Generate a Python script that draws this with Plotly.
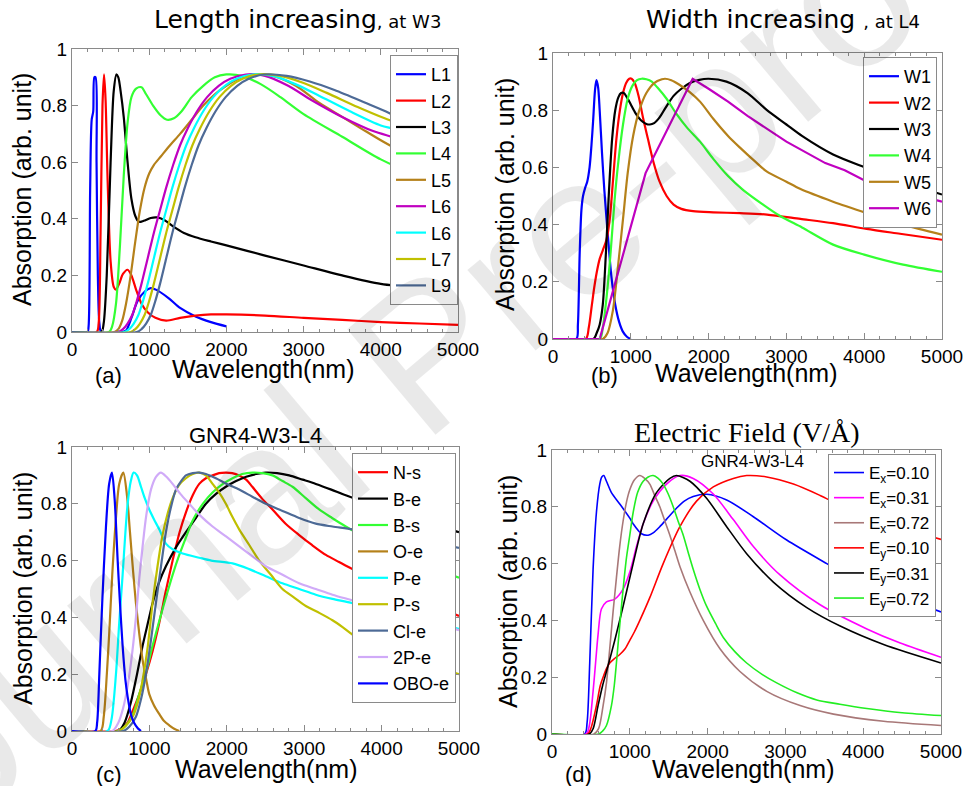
import plotly.graph_objects as go

# ---------------- Panel (a): Length increasing, at W3 ----------------
a_L1_x = [0, 200, 215, 235, 255, 275, 290, 305, 318, 335, 355, 380, 650, 700, 770, 850, 950, 1020, 1100, 1250, 1400, 1600, 1800, 2000]
a_L1_y = [0, 0, 0.02, 0.5, 0.75, 0.78, 0.9, 0.9, 0.6, 0.2, 0.03, 0, 0, 0.005, 0.05, 0.11, 0.145, 0.155, 0.148, 0.12, 0.085, 0.055, 0.035, 0.02]
a_L2_x = [0, 320, 345, 370, 395, 415, 435, 460, 500, 540, 570, 610, 660, 720, 770, 830, 900, 980, 1080, 1220, 1400, 1600, 1800, 2000, 2500, 3000, 3500, 4000, 4500, 5000]
a_L2_y = [0, 0, 0.03, 0.35, 0.8, 0.91, 0.82, 0.55, 0.25, 0.16, 0.15, 0.17, 0.205, 0.22, 0.2, 0.15, 0.1, 0.07, 0.05, 0.04, 0.05, 0.058, 0.062, 0.062, 0.058, 0.05, 0.043, 0.035, 0.03, 0.025]
a_L3_x = [0, 380, 410, 450, 500, 540, 575, 600, 630, 670, 720, 770, 820, 865, 900, 950, 1020, 1100, 1200, 1300, 1450, 1600, 1800, 2000, 2500, 3000, 3500, 4000, 4500, 5000]
a_L3_y = [0, 0, 0.03, 0.2, 0.6, 0.85, 0.91, 0.9, 0.85, 0.76, 0.6, 0.47, 0.41, 0.39, 0.39, 0.395, 0.403, 0.405, 0.395, 0.375, 0.35, 0.335, 0.32, 0.306, 0.27, 0.235, 0.2, 0.17, 0.155, 0.145]
a_L4_x = [0, 480, 520, 570, 620, 670, 720, 770, 830, 900, 960, 1050, 1150, 1230, 1320, 1420, 1550, 1700, 1850, 2000, 2200, 2450, 2700, 3000, 3500, 4000, 4500, 5000]
a_L4_y = [0, 0, 0.02, 0.1, 0.3, 0.55, 0.74, 0.83, 0.86, 0.865, 0.84, 0.8, 0.765, 0.75, 0.755, 0.78, 0.83, 0.87, 0.9, 0.91, 0.905, 0.875, 0.83, 0.77, 0.69, 0.61, 0.55, 0.5]
a_L5_x = [0, 550, 600, 650, 700, 760, 820, 880, 940, 1000, 1060, 1150, 1270, 1400, 1550, 1700, 1850, 2000, 2200, 2400, 2600, 2900, 3200, 3500, 3800, 4150, 4500, 5000]
a_L5_y = [0, 0, 0.01, 0.04, 0.1, 0.2, 0.32, 0.43, 0.51, 0.56, 0.59, 0.62, 0.66, 0.7, 0.75, 0.8, 0.84, 0.87, 0.9, 0.91, 0.905, 0.87, 0.81, 0.76, 0.71, 0.655, 0.62, 0.565]
a_L6m_x = [0, 600, 660, 720, 780, 840, 900, 980, 1060, 1140, 1220, 1310, 1400, 1500, 1620, 1750, 1900, 2050, 2250, 2500, 2800, 3100, 3500, 3900, 4200, 4600, 5000]
a_L6m_y = [0, 0, 0.01, 0.03, 0.06, 0.11, 0.17, 0.26, 0.35, 0.43, 0.51, 0.59, 0.66, 0.72, 0.78, 0.83, 0.87, 0.895, 0.91, 0.905, 0.87, 0.82, 0.76, 0.71, 0.685, 0.645, 0.605]
a_L6c_x = [0, 680, 740, 800, 860, 920, 980, 1060, 1140, 1220, 1300, 1390, 1480, 1580, 1700, 1830, 1980, 2130, 2330, 2600, 2900, 3200, 3600, 4000, 4200, 4600, 5000]
a_L6c_y = [0, 0, 0.01, 0.03, 0.06, 0.11, 0.17, 0.26, 0.35, 0.43, 0.51, 0.59, 0.66, 0.72, 0.78, 0.83, 0.87, 0.895, 0.91, 0.905, 0.875, 0.835, 0.78, 0.73, 0.715, 0.67, 0.635]
a_L7_x = [0, 760, 820, 880, 940, 1000, 1060, 1140, 1220, 1300, 1380, 1470, 1560, 1660, 1780, 1910, 2060, 2210, 2410, 2700, 3000, 3300, 3700, 4050, 4200, 4600, 5000]
a_L7_y = [0, 0, 0.01, 0.03, 0.06, 0.11, 0.17, 0.26, 0.35, 0.43, 0.51, 0.59, 0.66, 0.72, 0.78, 0.83, 0.87, 0.895, 0.91, 0.905, 0.88, 0.845, 0.795, 0.755, 0.74, 0.695, 0.655]
a_L9_x = [0, 840, 900, 960, 1020, 1080, 1140, 1220, 1300, 1380, 1460, 1550, 1640, 1740, 1860, 1990, 2140, 2290, 2490, 2780, 3080, 3400, 3800, 4100, 4200, 4600, 5000]
a_L9_y = [0, 0, 0.01, 0.03, 0.06, 0.11, 0.17, 0.26, 0.35, 0.43, 0.51, 0.59, 0.66, 0.72, 0.78, 0.83, 0.87, 0.895, 0.91, 0.905, 0.885, 0.855, 0.81, 0.775, 0.76, 0.715, 0.67]

# ---------------- Panel (b): Width increasing, at L4 ----------------
b_W1_x = [0, 300, 320, 343, 365, 386, 415, 440, 470, 495, 515, 540, 558, 580, 600, 630, 660, 700, 750, 800, 850, 900, 950, 1000]
b_W1_y = [0, 0, 0.05, 0.3, 0.45, 0.5, 0.53, 0.55, 0.6, 0.68, 0.76, 0.87, 0.905, 0.88, 0.8, 0.65, 0.52, 0.38, 0.22, 0.12, 0.06, 0.025, 0.008, 0]
b_W2_x = [0, 420, 460, 500, 530, 560, 600, 640, 690, 730, 770, 815, 860, 900, 940, 980, 1010, 1050, 1100, 1160, 1220, 1290, 1370, 1460, 1550, 1650, 1800, 2060, 2400, 2750, 3180, 3600, 4030, 4460, 5000]
b_W2_y = [0, 0, 0.04, 0.12, 0.18, 0.23, 0.28, 0.31, 0.35, 0.42, 0.55, 0.7, 0.8, 0.86, 0.895, 0.91, 0.91, 0.895, 0.85, 0.77, 0.7, 0.62, 0.55, 0.5, 0.47, 0.455, 0.447, 0.443, 0.44, 0.435, 0.42, 0.405, 0.385, 0.368, 0.347]
b_W3_x = [0, 520, 560, 600, 640, 680, 720, 760, 800, 840, 875, 910, 950, 1000, 1060, 1130, 1200, 1245, 1300, 1370, 1450, 1550, 1650, 1760, 1880, 2000, 2230, 2500, 2750, 3000, 3200, 3600, 4010, 4500, 5000]
b_W3_y = [0, 0, 0.02, 0.05, 0.12, 0.3, 0.52, 0.7, 0.8, 0.845, 0.86, 0.86, 0.845, 0.82, 0.79, 0.765, 0.752, 0.75, 0.755, 0.775, 0.81, 0.85, 0.875, 0.895, 0.906, 0.91, 0.9, 0.86, 0.8, 0.75, 0.71, 0.645, 0.6, 0.55, 0.505]
b_W4_x = [0, 600, 640, 690, 740, 790, 840, 900, 960, 1020, 1080, 1140, 1200, 1270, 1340, 1460, 1580, 1720, 1890, 2060, 2250, 2450, 2700, 2920, 3200, 3600, 4000, 4500, 5000]
b_W4_y = [0, 0, 0.04, 0.15, 0.3, 0.48, 0.62, 0.75, 0.84, 0.885, 0.905, 0.91, 0.908, 0.9, 0.88, 0.84, 0.79, 0.74, 0.69, 0.63, 0.57, 0.52, 0.47, 0.43, 0.39, 0.33, 0.295, 0.26, 0.235]
b_W5_x = [0, 640, 700, 770, 830, 900, 960, 1030, 1110, 1200, 1300, 1400, 1440, 1520, 1620, 1750, 1890, 2060, 2250, 2400, 2600, 2750, 3000, 3175, 3600, 4036, 4500, 5000]
b_W5_y = [0, 0, 0.02, 0.1, 0.24, 0.42, 0.58, 0.71, 0.8, 0.86, 0.895, 0.908, 0.91, 0.905, 0.89, 0.865, 0.83, 0.77, 0.71, 0.67, 0.62, 0.585, 0.55, 0.525, 0.48, 0.44, 0.4, 0.365]
b_W6_x = [0, 600, 1190, 1795, 2000, 2250, 2500, 2750, 3000, 3500, 3750, 4036, 5000]
b_W6_y = [0, 0, 0.58, 0.91, 0.875, 0.83, 0.78, 0.735, 0.69, 0.615, 0.59, 0.55, 0.48]

# ---------------- Panel (c): GNR4-W3-L4 dopants ----------------
c_Ns_x = [0, 560, 650, 720, 783, 870, 955, 1040, 1127, 1210, 1300, 1390, 1472, 1560, 1644, 1730, 1816, 1900, 1988, 2070, 2160, 2250, 2330, 2450, 2590, 2760, 2935, 3100, 3280, 3450, 3623, 4000, 4500, 5000]
c_Ns_y = [0, 0, 0.01, 0.03, 0.07, 0.13, 0.2, 0.28, 0.38, 0.49, 0.6, 0.7, 0.77, 0.83, 0.87, 0.89, 0.9, 0.908, 0.91, 0.908, 0.9, 0.885, 0.86, 0.82, 0.78, 0.73, 0.69, 0.655, 0.62, 0.595, 0.57, 0.52, 0.46, 0.405]
c_Be_x = [0, 600, 680, 760, 840, 912, 980, 1041, 1120, 1213, 1340, 1472, 1600, 1730, 1860, 1988, 2120, 2250, 2380, 2504, 2650, 2806, 2980, 3150, 3350, 3537, 4000, 4500, 5000]
c_Be_y = [0, 0, 0.03, 0.1, 0.2, 0.3, 0.38, 0.45, 0.52, 0.58, 0.645, 0.7, 0.75, 0.8, 0.835, 0.86, 0.88, 0.895, 0.905, 0.91, 0.908, 0.9, 0.885, 0.87, 0.85, 0.83, 0.785, 0.74, 0.7]
c_Bs_x = [0, 600, 700, 790, 869, 960, 1041, 1130, 1213, 1300, 1386, 1470, 1558, 1690, 1816, 1950, 2074, 2200, 2332, 2460, 2590, 2720, 2849, 3020, 3193, 3360, 3537, 4000, 4500, 5000]
c_Bs_y = [0, 0, 0.02, 0.06, 0.13, 0.21, 0.3, 0.39, 0.47, 0.55, 0.62, 0.68, 0.74, 0.8, 0.84, 0.87, 0.89, 0.905, 0.91, 0.908, 0.9, 0.88, 0.86, 0.82, 0.78, 0.75, 0.72, 0.65, 0.59, 0.54]
c_Oe_x = [0, 370, 410, 450, 482, 520, 568, 610, 663, 710, 749, 790, 826, 870, 912, 960, 998, 1060, 1127, 1190, 1256, 1320, 1386]
c_Oe_y = [0, 0, 0.05, 0.2, 0.35, 0.55, 0.75, 0.87, 0.91, 0.83, 0.7, 0.56, 0.45, 0.34, 0.25, 0.18, 0.13, 0.09, 0.06, 0.035, 0.02, 0.008, 0]
c_Pe_x = [0, 460, 510, 568, 610, 654, 690, 719, 760, 796, 840, 891, 940, 998, 1060, 1127, 1213, 1300, 1429, 1644, 1800, 2074, 2289, 2504, 2719, 2935, 3150, 3365, 3623, 4000, 4500, 5000]
c_Pe_y = [0, 0, 0.04, 0.2, 0.38, 0.55, 0.7, 0.8, 0.88, 0.91, 0.9, 0.86, 0.82, 0.78, 0.745, 0.71, 0.66, 0.64, 0.625, 0.61, 0.6, 0.59, 0.57, 0.545, 0.52, 0.5, 0.48, 0.465, 0.45, 0.42, 0.39, 0.36]
c_Ps_x = [0, 600, 700, 783, 850, 912, 980, 1041, 1105, 1170, 1240, 1300, 1380, 1472, 1560, 1644, 1730, 1816, 1900, 1988, 2070, 2160, 2290, 2418, 2570, 2719, 2870, 3021, 3200, 3365, 3500, 3623, 4000, 4500, 5000]
c_Ps_y = [0, 0, 0.02, 0.05, 0.1, 0.18, 0.3, 0.45, 0.58, 0.69, 0.77, 0.82, 0.865, 0.89, 0.905, 0.91, 0.9, 0.87, 0.84, 0.8, 0.755, 0.71, 0.655, 0.6, 0.55, 0.5, 0.47, 0.44, 0.415, 0.39, 0.365, 0.34, 0.29, 0.24, 0.2]
c_Cle_x = [0, 660, 740, 826, 890, 955, 1020, 1084, 1150, 1213, 1280, 1343, 1410, 1472, 1560, 1644, 1730, 1859, 2000, 2160, 2330, 2504, 2720, 2935, 3150, 3365, 3623, 4000, 4500, 5000]
c_Cle_y = [0, 0, 0.015, 0.05, 0.11, 0.2, 0.32, 0.45, 0.58, 0.7, 0.79, 0.85, 0.88, 0.9, 0.908, 0.91, 0.905, 0.89, 0.87, 0.85, 0.825, 0.8, 0.775, 0.75, 0.73, 0.72, 0.71, 0.69, 0.67, 0.645]
c_P2e_x = [0, 520, 600, 660, 720, 780, 826, 870, 912, 960, 1020, 1085, 1149, 1220, 1300, 1400, 1515, 1650, 1816, 1990, 2160, 2330, 2504, 2720, 2935, 3150, 3365, 3623, 4000, 4500, 5000]
c_P2e_y = [0, 0, 0.03, 0.08, 0.16, 0.28, 0.4, 0.54, 0.65, 0.76, 0.85, 0.895, 0.91, 0.895, 0.87, 0.835, 0.8, 0.76, 0.72, 0.685, 0.65, 0.615, 0.58, 0.55, 0.52, 0.5, 0.48, 0.46, 0.43, 0.395, 0.355]
c_OBOe_x = [0, 301, 325, 353, 390, 439, 480, 516, 550, 590, 620, 654, 690, 719, 760, 800, 850, 891]
c_OBOe_y = [0, 0, 0.03, 0.2, 0.45, 0.72, 0.87, 0.91, 0.82, 0.6, 0.45, 0.3, 0.18, 0.12, 0.06, 0.03, 0.01, 0]

# ---------------- Panel (d): Electric field ----------------
d_Ex010_x = [0, 420, 451, 485, 528, 571, 614, 640, 665, 700, 764, 871, 1000, 1043, 1150, 1236, 1300, 1386, 1500, 1600, 1700, 1815, 1990, 2245, 2588, 3017, 3532, 3747, 4200, 4600, 5000]
d_Ex010_y = [0, 0, 0.04, 0.25, 0.58, 0.78, 0.88, 0.905, 0.91, 0.89, 0.85, 0.81, 0.76, 0.74, 0.705, 0.7, 0.708, 0.73, 0.765, 0.795, 0.82, 0.836, 0.844, 0.824, 0.765, 0.683, 0.6, 0.566, 0.51, 0.47, 0.43]
d_Ex031_x = [0, 440, 480, 528, 560, 592, 635, 700, 807, 914, 1000, 1086, 1172, 1300, 1472, 1644, 1815, 2073, 2330, 2588, 2931, 3446, 4047, 4476, 5000]
d_Ex031_y = [0, 0, 0.03, 0.15, 0.25, 0.35, 0.44, 0.465, 0.475, 0.51, 0.57, 0.66, 0.74, 0.82, 0.88, 0.91, 0.9, 0.845, 0.755, 0.66, 0.56, 0.455, 0.37, 0.32, 0.27]
d_Ex072_x = [0, 540, 600, 657, 700, 742, 785, 828, 870, 914, 960, 1000, 1060, 1129, 1190, 1257, 1320, 1386, 1450, 1515, 1580, 1644, 1773, 1944, 2159, 2416, 2760, 3189, 3618, 4262, 5000]
d_Ex072_y = [0, 0, 0.02, 0.1, 0.18, 0.3, 0.43, 0.55, 0.66, 0.75, 0.82, 0.86, 0.895, 0.91, 0.9, 0.88, 0.84, 0.8, 0.75, 0.7, 0.645, 0.59, 0.5, 0.4, 0.3, 0.22, 0.15, 0.1, 0.07, 0.045, 0.03]
d_Ey010_x = [0, 460, 500, 571, 620, 657, 700, 742, 800, 871, 940, 1000, 1060, 1129, 1257, 1429, 1644, 1858, 2073, 2330, 2502, 2760, 3103, 3446, 3747, 4300, 5000]
d_Ey010_y = [0, 0, 0.02, 0.1, 0.17, 0.2, 0.23, 0.25, 0.265, 0.28, 0.3, 0.33, 0.36, 0.4, 0.48, 0.6, 0.73, 0.82, 0.87, 0.9, 0.91, 0.905, 0.88, 0.84, 0.8, 0.745, 0.685]
d_Ey031_x = [0, 480, 530, 592, 650, 700, 807, 914, 1043, 1172, 1343, 1515, 1600, 1773, 1987, 2245, 2502, 2845, 3275, 3704, 4262, 5000]
d_Ey031_y = [0, 0, 0.02, 0.1, 0.17, 0.22, 0.33, 0.45, 0.6, 0.74, 0.85, 0.9, 0.91, 0.89, 0.83, 0.73, 0.635, 0.535, 0.445, 0.38, 0.315, 0.25]
d_Ey072_x = [0, 600, 650, 700, 764, 800, 828, 860, 893, 925, 957, 1000, 1043, 1100, 1172, 1236, 1300, 1365, 1429, 1494, 1558, 1620, 1687, 1750, 1815, 1900, 1987, 2100, 2202, 2350, 2502, 2700, 2888, 3150, 3403, 3700, 4047, 4500, 5000]
d_Ey072_y = [0, 0, 0.01, 0.03, 0.1, 0.17, 0.25, 0.35, 0.45, 0.54, 0.62, 0.7, 0.78, 0.85, 0.89, 0.905, 0.91, 0.9, 0.88, 0.845, 0.8, 0.75, 0.7, 0.64, 0.58, 0.51, 0.45, 0.39, 0.34, 0.29, 0.25, 0.21, 0.18, 0.145, 0.12, 0.105, 0.09, 0.075, 0.065]

x_tick_vals = [0, 1000, 2000, 3000, 4000, 5000]
y_tick_vals = [0, 0.2, 0.4, 0.6, 0.8, 1]
y_tick_text = ["0", "0.2", "0.4", "0.6", "0.8", "1"]

W, H = 965, 786
SANS = "Liberation Sans, Arial, sans-serif"
WIDE = "DejaVu Sans, Verdana, sans-serif"
SERIF = "Liberation Serif, Times New Roman, serif"

def px(x):
    return x / W

def py(y):
    return 1 - y / H

BLUE, RED, BLACK = "#0000ff", "#ff0000", "#000000"
GREEN, BROWN, MAG = "#33ff33", "#b5811a", "#c000c0"
CYAN, OLIVE, SLATE = "#00ffff", "#c0c000", "#4d6a96"
LAV, ROSY, MAG2, GREEN2 = "#d0aaf8", "#a87878", "#ff00ff", "#22ee22"

panels = {
    "a": dict(xa="x", ya="y", leg="legend", w=2.2, series=[
        ("L1", a_L1_x, a_L1_y, BLUE), ("L2", a_L2_x, a_L2_y, RED), ("L3", a_L3_x, a_L3_y, BLACK),
        ("L4", a_L4_x, a_L4_y, GREEN), ("L5", a_L5_x, a_L5_y, BROWN), ("L6", a_L6m_x, a_L6m_y, MAG),
        ("L6", a_L6c_x, a_L6c_y, CYAN), ("L7", a_L7_x, a_L7_y, OLIVE), ("L9", a_L9_x, a_L9_y, SLATE)]),
    "b": dict(xa="x2", ya="y2", leg="legend2", w=2.2, series=[
        ("W1", b_W1_x, b_W1_y, BLUE), ("W2", b_W2_x, b_W2_y, RED), ("W3", b_W3_x, b_W3_y, BLACK),
        ("W4", b_W4_x, b_W4_y, GREEN), ("W5", b_W5_x, b_W5_y, BROWN), ("W6", b_W6_x, b_W6_y, MAG)]),
    "c": dict(xa="x3", ya="y3", leg="legend3", w=2.2, series=[
        ("N-s", c_Ns_x, c_Ns_y, RED), ("B-e", c_Be_x, c_Be_y, BLACK), ("B-s", c_Bs_x, c_Bs_y, GREEN),
        ("O-e", c_Oe_x, c_Oe_y, BROWN), ("P-e", c_Pe_x, c_Pe_y, CYAN), ("P-s", c_Ps_x, c_Ps_y, OLIVE),
        ("Cl-e", c_Cle_x, c_Cle_y, SLATE), ("2P-e", c_P2e_x, c_P2e_y, LAV), ("OBO-e", c_OBOe_x, c_OBOe_y, BLUE)]),
    "d": dict(xa="x4", ya="y4", leg="legend4", w=1.6, series=[
        ("E<sub>x</sub>=0.10", d_Ex010_x, d_Ex010_y, BLUE), ("E<sub>x</sub>=0.31", d_Ex031_x, d_Ex031_y, MAG2),
        ("E<sub>x</sub>=0.72", d_Ex072_x, d_Ex072_y, ROSY), ("E<sub>y</sub>=0.10", d_Ey010_x, d_Ey010_y, RED),
        ("E<sub>y</sub>=0.31", d_Ey031_x, d_Ey031_y, BLACK), ("E<sub>y</sub>=0.72", d_Ey072_x, d_Ey072_y, GREEN2)]),
}

fig = go.Figure()
for key, p in panels.items():
    for name, xs, ys, col in p["series"]:
        shape = "linear" if (key == "b" and name == "W6") else "spline"
        fig.add_trace(go.Scatter(x=xs, y=ys, name=name, mode="lines",
                                 line=dict(color=col, width=p["w"], shape=shape, smoothing=0.8),
                                 xaxis=p["xa"], yaxis=p["ya"], legend=p["leg"]))

boxes = {"": (72, 458, 49, 332), "2": (553, 942, 53, 339),
         "3": (72, 459, 447, 731), "4": (552, 941, 450, 734)}
FRAME = "#8a8a8a"
layout = dict(width=W, height=H, autosize=False, margin=dict(l=0, r=0, t=0, b=0, pad=0),
              paper_bgcolor="white", plot_bgcolor="white", showlegend=True,
              font=dict(family=SANS, color="black"))
for sfx, (l, r, t, b) in boxes.items():
    layout["xaxis" + sfx] = dict(domain=[px(l), px(r)], anchor="y" + sfx, range=[0, 5000], automargin=False,
                                 tickvals=x_tick_vals, ticks="inside", ticklen=6, tickcolor=FRAME,
                                 showline=True, linecolor=FRAME, linewidth=1, mirror="allticks",
                                 showgrid=False, zeroline=False,
                                 minor=dict(ticks="inside", dtick=200, ticklen=3, tickcolor=FRAME),
                                 tickfont=dict(family=SANS, size=19, color="black"))
    layout["yaxis" + sfx] = dict(domain=[py(b), py(t)], anchor="x" + sfx, range=[0, 1], automargin=False,
                                 tickvals=y_tick_vals, ticktext=y_tick_text,
                                 ticks="inside", ticklen=6, tickcolor=FRAME,
                                 showline=True, linecolor=FRAME, linewidth=1, mirror="allticks",
                                 showgrid=False, zeroline=False,
                                 tickfont=dict(family=SANS, size=19, color="black"))

def legend_at(right, top, size=18):
    return dict(x=px(right), y=py(top), xanchor="right", yanchor="top", bgcolor="white",
                bordercolor=FRAME, borderwidth=1, font=dict(family=SANS, size=size, color="black"),
                tracegroupgap=0)

layout["legend"] = legend_at(458, 55)
layout["legend2"] = legend_at(937, 57)
layout["legend3"] = legend_at(456, 453)
layout["legend4"] = legend_at(936, 454, 17)
fig.update_layout(**layout)

def txt(x, y, s, size, angle=0, family=SANS, color="black"):
    fig.add_annotation(x=px(x), y=py(y), xref="paper", yref="paper", text=s, showarrow=False,
                       textangle=angle, font=dict(family=family, size=size, color=color),
                       xanchor="center", yanchor="middle")

# watermark
txt(425, 352, "Journal Pre-proof", 200, angle=-40, color="rgba(0,0,0,0.085)")

# titles
txt(297, 19, "Length increasing<span style='font-size:18px'>, at W3</span>", 25, family=WIDE)
txt(783, 19, "Width increasing <span style='font-size:18px'>, at L4</span>", 25, family=WIDE)
txt(255, 435, "GNR4-W3-L4", 22)
txt(746, 432, "Electric Field (V/Å)", 28, family=SERIF)
txt(752, 461, "GNR4-W3-L4", 17)

# axis titles and panel tags
for (x, y) in [(22, 190), (505, 195), (23, 589), (508, 592)]:
    txt(x, y, "Absorption (arb. unit)", 25, angle=-90)
for (x, y) in [(263, 369), (746, 373), (266, 769), (743, 769)]:
    txt(x, y, "Wavelength(nm)", 25)
for (x, y, s) in [(108, 375, "(a)"), (604, 375, "(b)"), (109, 774, "(c)"), (578, 774, "(d)")]:
    txt(x, y, s, 22)

fig.write_html("out.html", config={"displayModeBar": False},
               post_script="document.body.style.margin='0';")
